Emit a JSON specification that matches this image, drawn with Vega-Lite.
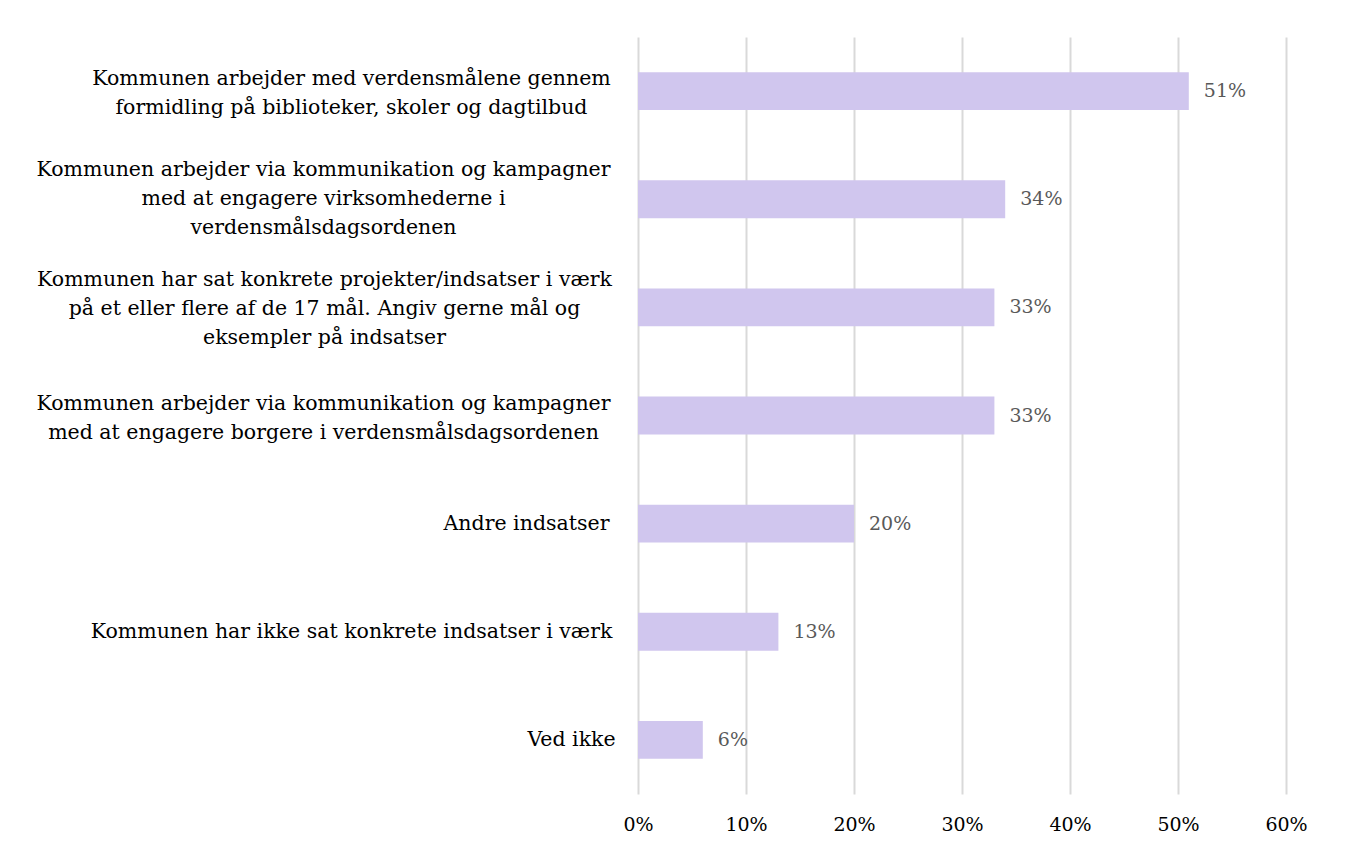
{
  "$schema": "https://vega.github.io/schema/vega-lite/v6.json",
  "autosize": "none",
  "width": 648,
  "height": 757,
  "padding": {"left": 638, "top": 37, "right": 59, "bottom": 54},
  "background": "white",
  "config": {"view": {"stroke": null}, "font": "DejaVu Serif"},
  "data": {"values": [
    {"label": "Kommunen arbejder med verdensmålene gennem|formidling på biblioteker, skoler og dagtilbud", "value": 0.51, "text": "51%"},
    {"label": "Kommunen arbejder via kommunikation og kampagner|med at engagere virksomhederne i|verdensmålsdagsordenen", "value": 0.34, "text": "34%"},
    {"label": "Kommunen har sat konkrete projekter/indsatser i værk|på et eller flere af de 17 mål. Angiv gerne mål og|eksempler på indsatser", "value": 0.33, "text": "33%"},
    {"label": "Kommunen arbejder via kommunikation og kampagner|med at engagere borgere i verdensmålsdagsordenen", "value": 0.33, "text": "33%"},
    {"label": "Andre indsatser", "value": 0.20, "text": "20%"},
    {"label": "Kommunen har ikke sat konkrete indsatser i værk", "value": 0.13, "text": "13%"},
    {"label": "Ved ikke", "value": 0.06, "text": "6%"}
  ]},
  "encoding": {
    "y": {
      "field": "label", "type": "nominal", "sort": null, "title": null,
      "scale": {"paddingInner": 0.65, "paddingOuter": 0.325},
      "axis": {
        "labelExpr": "split(datum.label, '|')",
        "labelFont": "DejaVu Serif", "labelFontSize": 20.5, "labelColor": "#000000",
        "labelLineHeight": 29, "labelLimit": 800,
        "domain": false, "ticks": false, "labelAlign": "center", "labelBaseline": "middle",
        "labelPadding": {
          "condition": [
            {"test": "indexof(datum.value, 'formidling') >= 0", "value": 287},
            {"test": "indexof(datum.value, 'virksomhederne') >= 0", "value": 315},
            {"test": "indexof(datum.value, 'projekter') >= 0", "value": 314},
            {"test": "indexof(datum.value, 'borgere') >= 0", "value": 315},
            {"test": "indexof(datum.value, 'Andre') >= 0", "value": 112},
            {"test": "indexof(datum.value, 'ikke sat') >= 0", "value": 287}
          ],
          "value": 67
        },
        "labelOffset": {
          "condition": [
            {"test": "indexof(datum.value, 'formidling') >= 0", "value": -12},
            {"test": "indexof(datum.value, 'virksomhederne') >= 0", "value": -29},
            {"test": "indexof(datum.value, 'projekter') >= 0", "value": -27},
            {"test": "indexof(datum.value, 'borgere') >= 0", "value": -12}
          ],
          "value": 0
        }
      }
    },
    "x": {
      "field": "value", "type": "quantitative", "title": null,
      "scale": {"domain": [0, 0.6], "nice": false},
      "axis": {
        "format": ".0%", "values": [0, 0.1, 0.2, 0.3, 0.4, 0.5, 0.6],
        "grid": true, "gridColor": "#d9d9d9", "gridWidth": 2,
        "domain": false, "ticks": false,
        "labelFont": "DejaVu Serif", "labelFontSize": 19, "labelColor": "#000000",
        "labelPadding": 21, "labelFlush": false
      }
    }
  },
  "layer": [
    {"mark": {"type": "bar", "color": "#d0c6ee"}},
    {"mark": {"type": "text", "align": "left", "baseline": "middle", "dx": 15, "font": "DejaVu Serif", "fontSize": 19, "color": "#595959"},
     "encoding": {"text": {"field": "text"}}}
  ]
}
